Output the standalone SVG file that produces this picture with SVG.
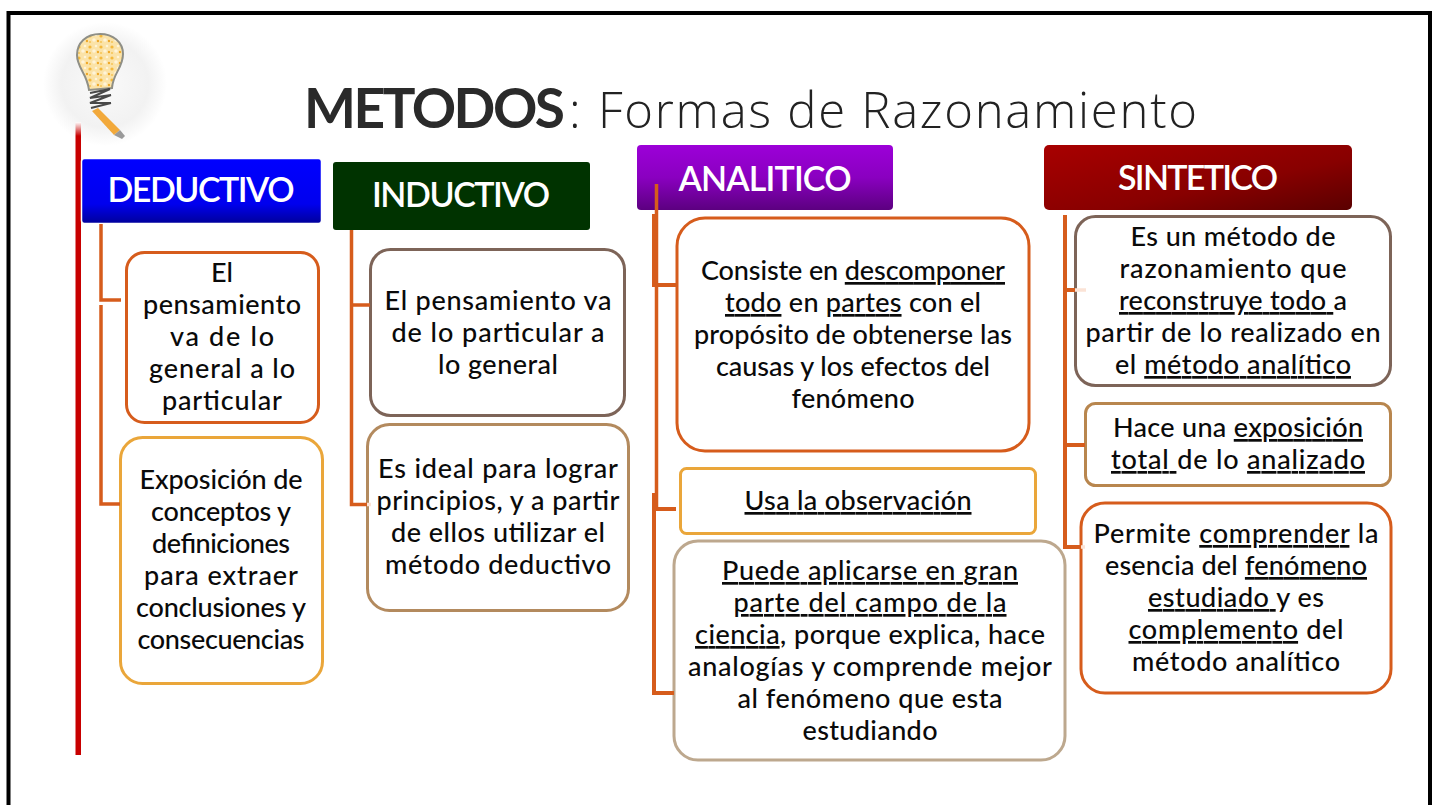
<svg xmlns="http://www.w3.org/2000/svg" width="1436" height="805" viewBox="0 0 1436 805">
<style>
.t{font-family:"Lato","Open Sans",sans-serif;font-size:27px;fill:#0a0a0a;text-anchor:middle;font-weight:500}
.h{font-family:"Lato","Open Sans",sans-serif;font-size:34px;fill:#fff;text-anchor:middle;font-weight:600}
.u{text-decoration:underline}
.box{fill:#fff;stroke-width:3}
.c{fill:none;stroke:#d65c1c;stroke-width:3.500}
.c2{fill:none;stroke:#d65c1c;stroke-width:4}
.p{fill:none;stroke:#fbe3d6;stroke-width:3.500}
</style>
<defs>
<linearGradient id="gb" x1="0" y1="0" x2="0" y2="1"><stop offset="0" stop-color="#0000ff"/><stop offset=".7" stop-color="#0000ee"/><stop offset="1" stop-color="#00009a"/></linearGradient>
<linearGradient id="gp" x1="0" y1="0" x2="0" y2="1"><stop offset="0" stop-color="#9c00d8"/><stop offset=".5" stop-color="#8a00c0"/><stop offset="1" stop-color="#5c0080"/></linearGradient>
<linearGradient id="gr" x1="0" y1="0" x2="1" y2="1"><stop offset="0" stop-color="#a80000"/><stop offset=".6" stop-color="#880000"/><stop offset="1" stop-color="#5a0000"/></linearGradient>
<linearGradient id="gl" x1="0" y1="0" x2="0" y2="1"><stop offset="0" stop-color="#fff"/><stop offset="1" stop-color="#c80000"/></linearGradient>
<radialGradient id="glow"><stop offset="0" stop-color="#fafafa"/><stop offset=".7" stop-color="#f2f2f2"/><stop offset="1" stop-color="#fff"/></radialGradient>
<pattern id="sp" width="11" height="11" patternUnits="userSpaceOnUse"><rect width="11" height="11" fill="#fbe3a8"/><circle cx="2" cy="3" r="1.600" fill="#f5b93a"/><circle cx="8" cy="2" r="1.300" fill="#fff4d8"/><circle cx="6" cy="7" r="1.800" fill="#fff4d8"/><circle cx="10" cy="8" r="1.200" fill="#f0a828"/><circle cx="2" cy="9" r="1.100" fill="#f7c65c"/></pattern>
<filter id="soft" x="-10%" y="-10%" width="120%" height="120%"><feGaussianBlur stdDeviation="0.600"/></filter>
</defs>
<path d="M8.500 805V13H1430V805" fill="none" stroke="#000" stroke-width="4"/>
<g id="icon">
<circle cx="105" cy="84" r="62" fill="url(#glow)"/>
<g filter="url(#soft)">
<path d="M100 34C86 34 77 43 77 55C77 68 87 73 89 90L112 88C113 73 123 68 123 54C123 42 113 34 100 34Z" fill="url(#sp)" stroke="#8f8f86" stroke-width="2"/>
<path d="M90 93L110 89M110 89L90 98L111 95M111 95L90 103L111 103M111 103L91 108" fill="none" stroke="#4a4a4a" stroke-width="2"/>
<path d="M92 111L98 108L120 130L114 135Z" fill="#f2a93a"/>
<path d="M114 135L120 130L125 136L122 139Z" fill="#9a9a9a"/>
</g>
</g>
<rect id="redfade" x="75.500" y="122" width="5.500" height="14" fill="url(#gl)"/>
<rect id="redline" x="75.500" y="136" width="5.500" height="619" fill="#c80000"/>
<g id="title"><text x="304" y="128" font-family="Lato,'Open Sans',sans-serif" font-size="55" font-weight="700" fill="#2a2a2a" textLength="261">METODOS</text><text x="569" y="128" font-family="'Open Sans',sans-serif" font-size="49" font-weight="300" fill="#222">:</text><text x="598" y="128" font-family="'Open Sans',sans-serif" font-size="49" font-weight="300" fill="#222" textLength="599">Formas de Razonamiento</text></g>
<g id="deductivo"><rect x="81.500" y="158.500" width="240" height="65" rx="3" fill="url(#gb)" stroke="#fff" stroke-width="1.500"/><text class="h" x="201" y="202" textLength="187">DEDUCTIVO</text></g>
<g id="inductivo"><rect x="333" y="162" width="257" height="68" rx="3" fill="#003300"/><text class="h" x="461" y="207" textLength="178">INDUCTIVO</text></g>
<g id="analitico"><rect x="637" y="145" width="256" height="65" rx="4" fill="url(#gp)"/><text class="h" x="765" y="191" textLength="173">ANALITICO</text></g>
<g id="sintetico"><rect x="1044" y="145" width="308" height="65" rx="5" fill="url(#gr)"/><text class="h" x="1198" y="190" textLength="160">SINTETICO</text></g>
<g id="d1"><rect class="box" x="126.500" y="252.500" width="192" height="170" rx="18" stroke="#d65c1c"/>
<text class="t" x="222" y="282">El</text><text class="t" x="222" y="314" textLength="158">pensamiento</text><text class="t" x="222" y="346" textLength="104">va de lo</text><text class="t" x="222" y="378" textLength="146">general a lo</text><text class="t" x="222" y="410" textLength="120">particular</text></g>
<g id="d2"><rect class="box" x="120.500" y="437.500" width="202" height="246" rx="22" stroke="#eaa63a"/>
<text class="t" x="221" y="489" textLength="163">Exposición de</text><text class="t" x="221" y="521" textLength="140">conceptos y</text><text class="t" x="221" y="553" textLength="138">definiciones</text><text class="t" x="221" y="585" textLength="154">para extraer</text><text class="t" x="221" y="617" textLength="170">conclusiones y</text><text class="t" x="221" y="649" textLength="167">consecuencias</text></g>
<g id="i1"><rect class="box" x="370.500" y="249.500" width="254" height="166" rx="20" stroke="#7d6458"/>
<text class="t" x="498" y="310" textLength="227">El pensamiento va</text><text class="t" x="498" y="342" textLength="213">de lo particular a</text><text class="t" x="498" y="374" textLength="120">lo general</text></g>
<g id="i2"><rect class="box" x="367.500" y="424.500" width="261" height="186" rx="22" stroke="#b38a5e"/>
<text class="t" x="498" y="478" textLength="240">Es ideal para lograr</text><text class="t" x="498" y="510" textLength="243">principios, y a partir</text><text class="t" x="498" y="542" textLength="214">de ellos utilizar el</text><text class="t" x="498" y="574" textLength="226">método deductivo</text></g>
<g id="a1"><rect class="box" x="677" y="218" width="352" height="233" rx="28" stroke="#d65c1c"/>
<text class="t" x="853" y="280" textLength="304">Consiste en <tspan class="u">descomponer</tspan></text><text class="t" x="853" y="312" textLength="256"><tspan class="u">todo</tspan> en <tspan class="u">partes</tspan> con el</text><text class="t" x="853" y="344" textLength="318">propósito de obtenerse las</text><text class="t" x="853" y="376" textLength="274">causas y los efectos del</text><text class="t" x="853" y="408" textLength="123">fenómeno</text></g>
<g id="a2"><rect class="box" x="680.500" y="468.500" width="355" height="65" rx="6" stroke="#eaa63a"/>
<text class="t" x="858" y="510" textLength="227"><tspan class="u">Usa la observación</tspan></text></g>
<g id="a3"><rect class="box" x="674" y="541" width="391" height="219" rx="24" stroke="#bda88e"/>
<text class="t" x="870" y="580" textLength="296"><tspan class="u">Puede aplicarse en gran</tspan></text><text class="t" x="870" y="612" textLength="273"><tspan class="u">parte del campo de la</tspan></text><text class="t" x="870" y="644" textLength="350"><tspan class="u">ciencia</tspan>, porque explica, hace</text><text class="t" x="870" y="676" textLength="364">analogías y comprende mejor</text><text class="t" x="870" y="708" textLength="265">al fenómeno que esta</text><text class="t" x="870" y="740" textLength="135">estudiando</text></g>
<g id="s1"><rect class="box" x="1075.500" y="216.500" width="315" height="169" rx="20" stroke="#7d6458"/>
<text class="t" x="1233" y="246" textLength="205">Es un método de</text><text class="t" x="1233" y="278" textLength="227">razonamiento que</text><text class="t" x="1233" y="310" textLength="228"><tspan class="u">reconstruye todo </tspan>a</text><text class="t" x="1233" y="342" textLength="295">partir de lo realizado en</text><text class="t" x="1233" y="374" textLength="236">el <tspan class="u">método analítico</tspan></text></g>
<g id="s2"><rect class="box" x="1085.500" y="403.500" width="305" height="82" rx="10" stroke="#b8864e"/>
<text class="t" x="1238" y="437" textLength="250">Hace una <tspan class="u">exposición</tspan></text><text class="t" x="1238" y="469" textLength="254"><tspan class="u">total </tspan>de lo <tspan class="u">analizado</tspan></text></g>
<g id="s3"><rect class="box" x="1081" y="503" width="310" height="190" rx="24" stroke="#d65c1c"/>
<text class="t" x="1236" y="543" textLength="285">Permite <tspan class="u">comprender</tspan> la</text><text class="t" x="1236" y="575" textLength="262">esencia del <tspan class="u">fenómeno</tspan></text><text class="t" x="1236" y="607" textLength="176"><tspan class="u">estudiado </tspan>y es</text><text class="t" x="1236" y="639" textLength="215"><tspan class="u">complemento</tspan> del</text><text class="t" x="1236" y="671" textLength="208">método analítico</text></g>
<g id="connectors">
<path class="c" d="M101 224V300H121M101 305V504H120"/>
<path class="c" d="M351.500 230V504.500H367M351.500 305H370"/>
<path class="c" d="M656.500 184V509"/>
<path class="c2" d="M654 214V285H677M654 493V693H674M654 509H676"/>
<path class="c2" d="M1065 215V547H1081M1065 290H1075M1065 445H1085"/>
<path class="p" d="M1075 290H1086M1081 547H1085M367 504.500H371"/>
</g>
</svg>
